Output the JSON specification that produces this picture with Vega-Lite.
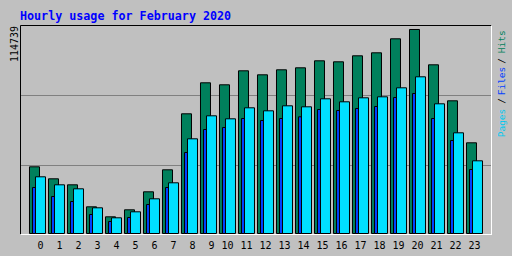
{
  "$schema": "https://vega.github.io/schema/vega-lite/v6.json",
  "autosize": {"type": "none"},
  "padding": {"left": 20, "top": 25, "right": 21, "bottom": 22.5},
  "width": 471,
  "height": 208.5,
  "background": "#C0C0C0",
  "config": {
    "view": {"fill": "#C0C0C0", "stroke": null},
    "axis": {"labelFont": "DejaVu Sans Mono", "labelColor": "#000000", "ticks": false, "tickSize": 0, "title": null, "domainWidth": 1}
  },
  "title": {
    "text": "Hourly usage for February 2020",
    "anchor": "start",
    "frame": "group",
    "font": "DejaVu Sans Mono",
    "fontWeight": "bold",
    "fontSize": 11.7,
    "color": "#0000FF",
    "baseline": "alphabetic",
    "offset": 6,
    "dy": 13
  },
  "data": {
    "values": [
      {"hour": 0, "hits": 37515, "files": 25873, "pages": 31891},
      {"hour": 1, "hits": 30766, "files": 20811, "pages": 27391},
      {"hour": 2, "hits": 27391, "files": 17998, "pages": 25142},
      {"hour": 3, "hits": 15017, "files": 10687, "pages": 14455},
      {"hour": 4, "hits": 9393, "files": 6749, "pages": 8831},
      {"hour": 5, "hits": 13330, "files": 8999, "pages": 12205},
      {"hour": 6, "hits": 23454, "files": 16311, "pages": 19517},
      {"hour": 7, "hits": 35828, "files": 25873, "pages": 28516},
      {"hour": 8, "hits": 67325, "files": 45558, "pages": 53264},
      {"hour": 9, "hits": 84761, "files": 58495, "pages": 66200},
      {"hour": 10, "hits": 83636, "files": 59620, "pages": 64513},
      {"hour": 11, "hits": 91511, "files": 64682, "pages": 70700},
      {"hour": 12, "hits": 89261, "files": 63557, "pages": 69012},
      {"hour": 13, "hits": 92073, "files": 64682, "pages": 71825},
      {"hour": 14, "hits": 93198, "files": 65638, "pages": 71262},
      {"hour": 15, "hits": 97135, "files": 69744, "pages": 75762},
      {"hour": 16, "hits": 96573, "files": 69181, "pages": 74075},
      {"hour": 17, "hits": 99947, "files": 70306, "pages": 76325},
      {"hour": 18, "hits": 101635, "files": 71431, "pages": 76887},
      {"hour": 19, "hits": 109509, "files": 76493, "pages": 81949},
      {"hour": 20, "hits": 114739, "files": 78743, "pages": 88136},
      {"hour": 21, "hits": 94885, "files": 64682, "pages": 72950},
      {"hour": 22, "hits": 74637, "files": 52308, "pages": 56639},
      {"hour": 23, "hits": 51014, "files": 35997, "pages": 40890}
    ]
  },
  "resolve": {"axis": {"x": "independent", "y": "independent"}},
  "layer": [
    {
      "mark": {"type": "bar", "fill": "#00805C", "stroke": "#000000", "strokeWidth": 1, "width": {"band": 0.5263}, "xOffset": -3},
      "encoding": {
        "x": {
          "field": "hour", "type": "ordinal",
          "scale": {"type": "band", "paddingInner": 0, "paddingOuter": 0.3947, "align": 0.5333},
          "axis": {"orient": "bottom", "labelAngle": 0, "labelFontSize": 10, "labelAlign": "right", "labelBaseline": "alphabetic", "labelPadding": 14.5, "labelOffset": 5.5, "translate": 1, "domainColor": "#FFFFFF", "grid": false}
        },
        "y": {
          "field": "hits", "type": "quantitative",
          "scale": {"domain": [0, 117270], "nice": false, "zero": true},
          "axis": {
            "orient": "left",
            "values": [38530, 77900, 114739],
            "format": "d",
            "labelExpr": "datum.value > 100000 ? datum.label : ''",
            "labelAngle": 270,
            "labelAlign": "right",
            "labelBaseline": "alphabetic",
            "labelFontSize": 10,
            "labelPadding": 3,
            "labelOffset": -4,
            "labelOverlap": false,
            "labelFlush": false,
            "labelBound": false,
            "domainColor": "#000000",
            "grid": true,
            "gridColor": "#808080",
            "gridOpacity": {"condition": {"test": "datum.value > 100000", "value": 0}, "value": 1}
          }
        }
      }
    },
    {
      "mark": {"type": "bar", "fill": "#0040FF", "stroke": "#000000", "strokeWidth": 1, "width": {"band": 0.5263}, "xOffset": 0},
      "encoding": {
        "x": {
          "field": "hour", "type": "ordinal",
          "scale": {"type": "band", "paddingInner": 0, "paddingOuter": 0.3947, "align": 0.5333},
          "axis": {"orient": "top", "labels": false, "domainColor": "#000000", "grid": false}
        },
        "y": {
          "field": "files", "type": "quantitative",
          "scale": {"domain": [0, 117270], "nice": false, "zero": true},
          "axis": {
            "orient": "right",
            "values": [62432, 74806, 86055, 97304, 108103],
            "labelExpr": "datum.value < 70000 ? 'Pages' : datum.value < 80000 ? '/' : datum.value < 90000 ? 'Files' : datum.value < 100000 ? '/' : 'Hits'",
            "labelColor": {"condition": [
              {"test": "datum.value < 70000", "value": "#00C8F0"},
              {"test": "datum.value > 80000 && datum.value < 90000", "value": "#0040FF"},
              {"test": "datum.value > 100000", "value": "#00805C"}
            ], "value": "#000000"},
            "labelAngle": 270,
            "labelAlign": "center",
            "labelBaseline": "top",
            "labelFontSize": 9.5,
            "labelPadding": 5,
            "labelOverlap": false,
            "labelFlush": false,
            "labelBound": false,
            "domainColor": "#FFFFFF",
            "grid": false
          }
        }
      }
    },
    {
      "mark": {"type": "bar", "fill": "#00E0FF", "stroke": "#000000", "strokeWidth": 1, "width": {"band": 0.5263}, "xOffset": 3},
      "encoding": {
        "x": {
          "field": "hour", "type": "ordinal",
          "scale": {"type": "band", "paddingInner": 0, "paddingOuter": 0.3947, "align": 0.5333},
          "axis": null
        },
        "y": {
          "field": "pages", "type": "quantitative",
          "scale": {"domain": [0, 117270], "nice": false, "zero": true},
          "axis": null
        }
      }
    }
  ]
}
